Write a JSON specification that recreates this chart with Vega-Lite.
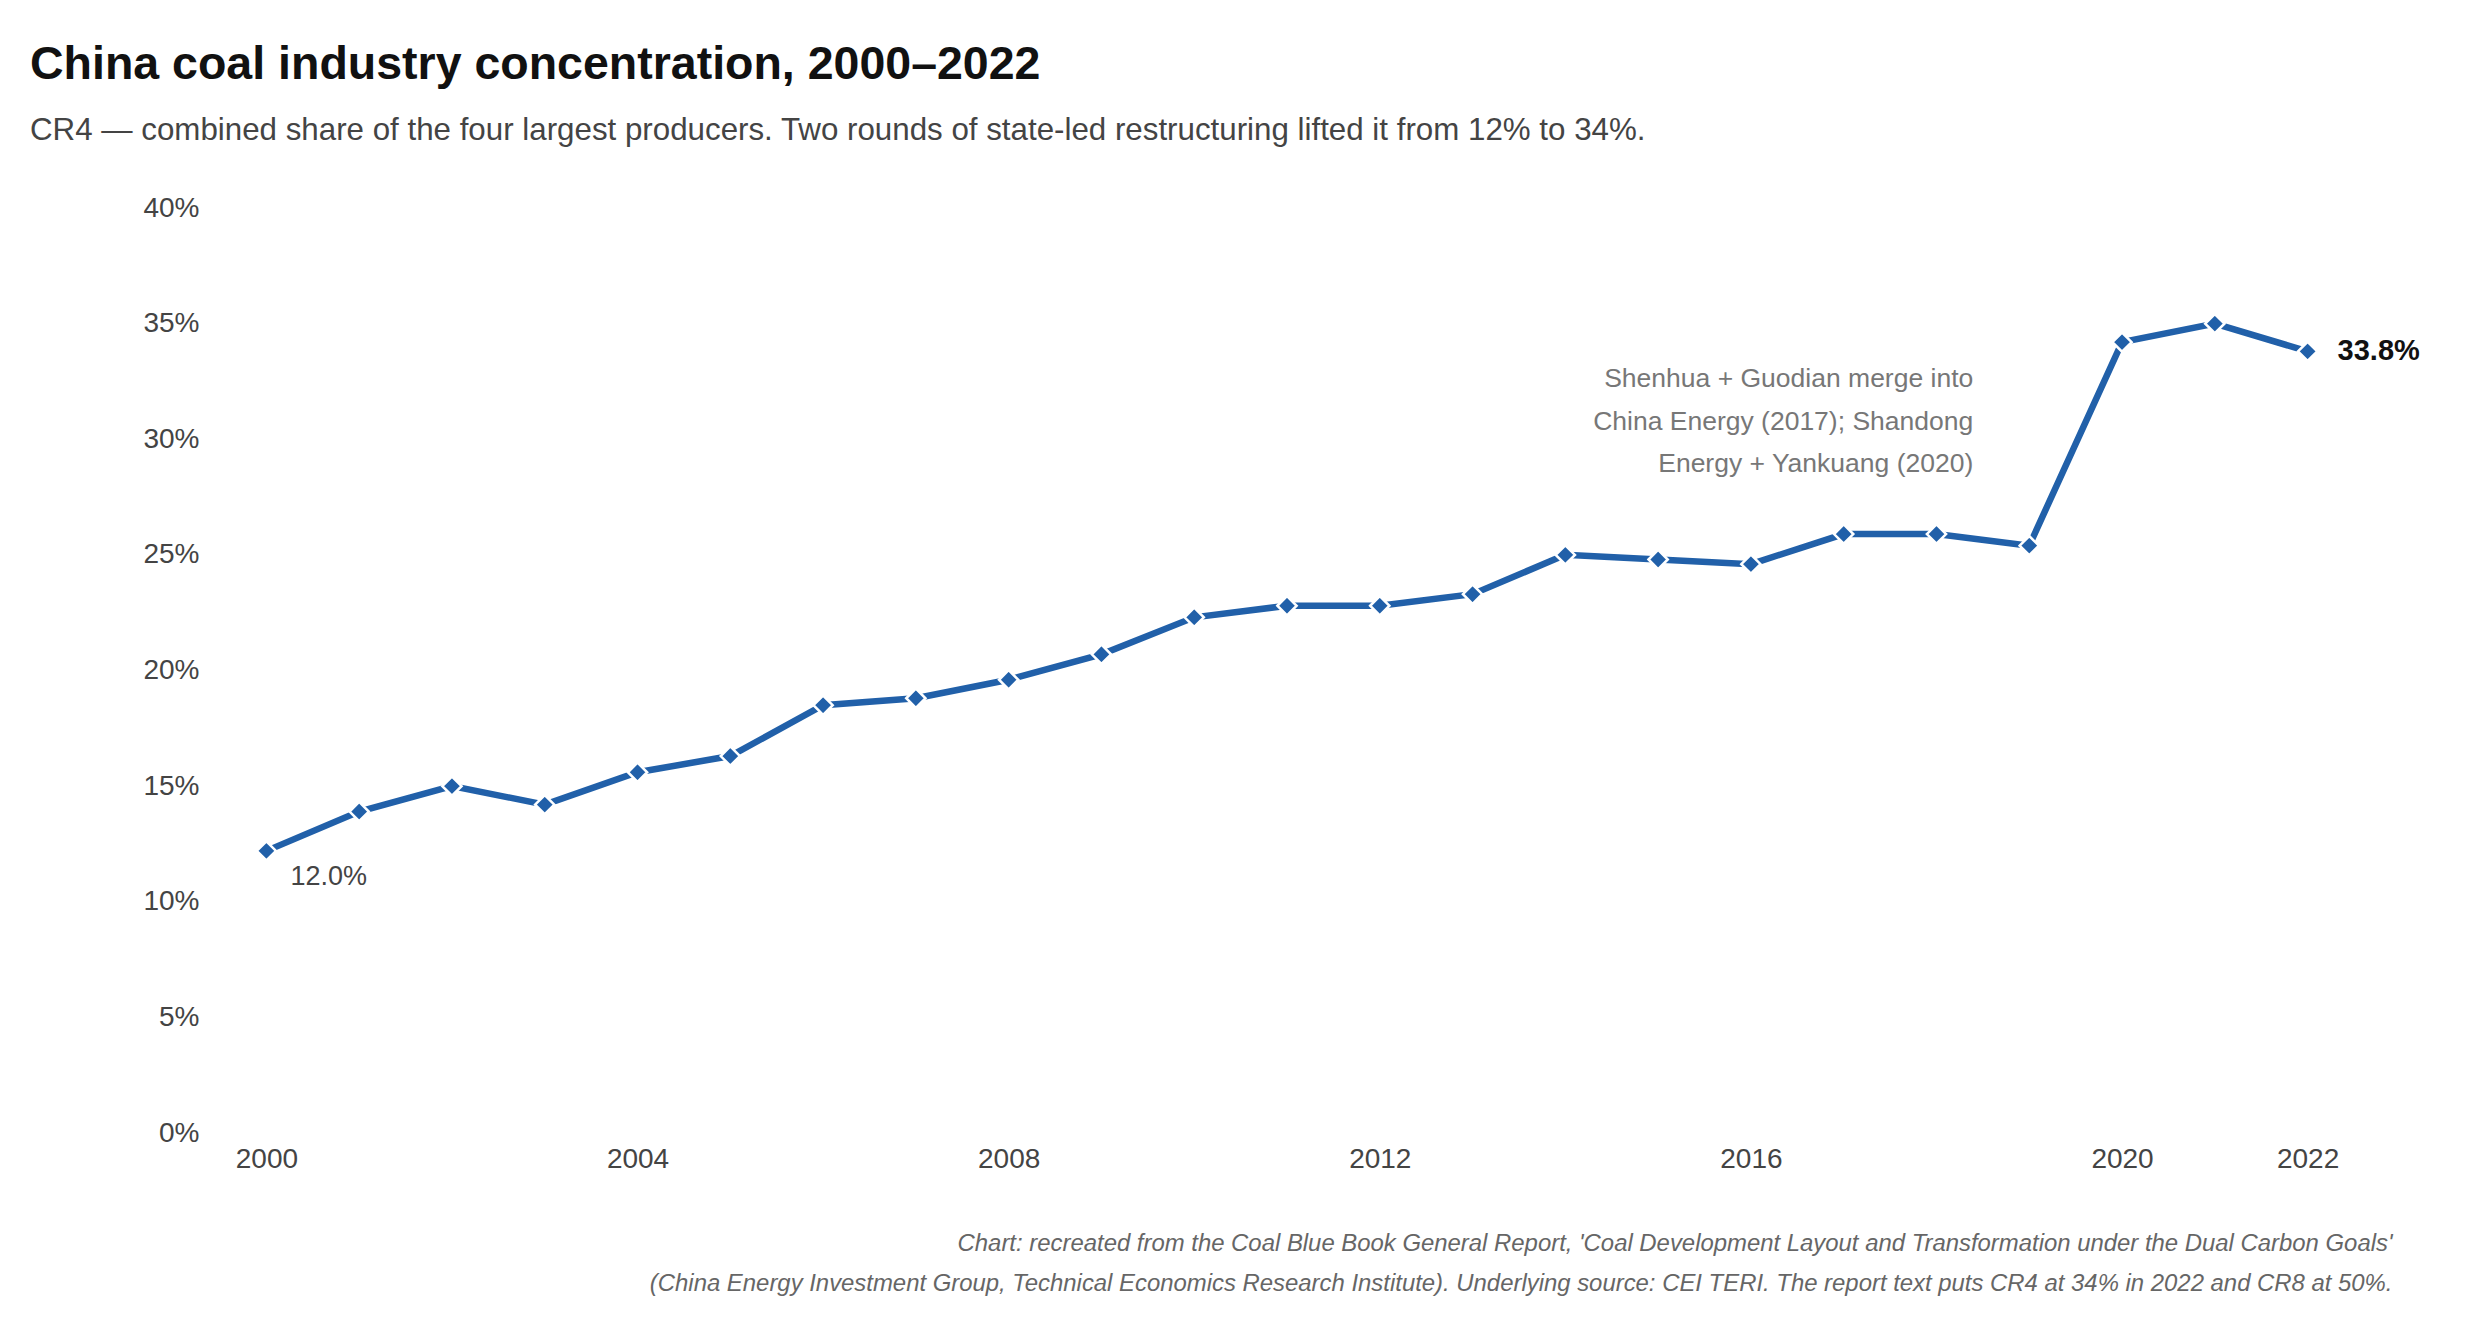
{
  "$schema": "https://vega.github.io/schema/vega-lite/v6.json",
  "description": "China coal industry concentration (CR4), 2000-2022.",
  "width": 2134,
  "height": 925,
  "autosize": {"type": "none"},
  "padding": {"left": 220, "top": 208, "right": 126, "bottom": 187},
  "background": "white",
  "config": {
    "view": {"stroke": null},
    "font": "Liberation Sans"
  },
  "title": {
    "text": "China coal industry concentration, 2000–2022",
    "subtitle": "CR4 — combined share of the four largest producers. Two rounds of state-led restructuring lifted it from 12% to 34%.",
    "anchor": "start",
    "frame": "group",
    "dx": -190,
    "offset": 48,
    "font": "Liberation Sans",
    "fontSize": 46.5,
    "fontWeight": "bold",
    "color": "#111111",
    "subtitleFont": "Liberation Sans",
    "subtitleFontSize": 31.3,
    "subtitleColor": "#444444",
    "subtitlePadding": 26
  },
  "data": {
    "values": [
      {"year": 2000, "cr4": 12.2, "label": "12.0%"},
      {"year": 2001, "cr4": 13.9},
      {"year": 2002, "cr4": 15.0},
      {"year": 2003, "cr4": 14.2},
      {"year": 2004, "cr4": 15.6},
      {"year": 2005, "cr4": 16.3},
      {"year": 2006, "cr4": 18.5},
      {"year": 2007, "cr4": 18.8},
      {"year": 2008, "cr4": 19.6},
      {"year": 2009, "cr4": 20.7},
      {"year": 2010, "cr4": 22.3},
      {"year": 2011, "cr4": 22.8},
      {"year": 2012, "cr4": 22.8},
      {"year": 2013, "cr4": 23.3},
      {"year": 2014, "cr4": 25.0},
      {"year": 2015, "cr4": 24.8},
      {"year": 2016, "cr4": 24.6},
      {"year": 2017, "cr4": 25.9},
      {"year": 2018, "cr4": 25.9},
      {"year": 2019, "cr4": 25.4},
      {"year": 2020, "cr4": 34.2},
      {"year": 2021, "cr4": 35.0},
      {"year": 2022, "cr4": 33.8, "label": "33.8%"}
    ]
  },
  "encoding": {
    "x": {
      "field": "year",
      "type": "quantitative",
      "scale": {"domain": [1999.5, 2022.5], "nice": false, "zero": false},
      "axis": {
        "values": [2000, 2004, 2008, 2012, 2016, 2020, 2022],
        "format": "d",
        "domain": false,
        "ticks": false,
        "grid": false,
        "labelFont": "Liberation Sans",
        "labelFontSize": 28,
        "labelColor": "#444444",
        "labelPadding": 12,
        "title": [
          "Chart: recreated from the Coal Blue Book General Report, 'Coal Development Layout and Transformation under the Dual Carbon Goals'",
          "(China Energy Investment Group, Technical Economics Research Institute). Underlying source: CEI TERI. The report text puts CR4 at 34% in 2022 and CR8 at 50%."
        ],
        "titleFont": "Liberation Sans",
        "titleFontSize": 23.9,
        "titleFontStyle": "italic",
        "titleFontWeight": "normal",
        "titleColor": "#666666",
        "titleAlign": "right",
        "titleBaseline": "middle",
        "titleLineHeight": 40,
        "titleX": 2172,
        "titleY": 110
      }
    },
    "y": {
      "field": "cr4",
      "type": "quantitative",
      "scale": {"domain": [0, 40], "nice": false},
      "axis": {
        "values": [0, 5, 10, 15, 20, 25, 30, 35, 40],
        "labelExpr": "datum.value + '%'",
        "domain": false,
        "ticks": false,
        "grid": false,
        "labelFont": "Liberation Sans",
        "labelFontSize": 28,
        "labelColor": "#444444",
        "labelPadding": 21,
        "title": null
      }
    }
  },
  "layer": [
    {
      "mark": {"type": "line", "color": "#2160a9", "strokeWidth": 6.5}
    },
    {
      "mark": {
        "type": "point",
        "shape": "diamond",
        "filled": true,
        "size": 370,
        "fill": "#2160a9",
        "stroke": "white",
        "strokeWidth": 2.5,
        "opacity": 1
      }
    },
    {
      "transform": [{"filter": "datum.year == 2000"}],
      "mark": {
        "type": "text",
        "align": "left",
        "baseline": "middle",
        "dx": 24,
        "dy": 26,
        "fontSize": 27,
        "color": "#444444"
      },
      "encoding": {"text": {"field": "label", "type": "nominal"}}
    },
    {
      "transform": [{"filter": "datum.year == 2022"}],
      "mark": {
        "type": "text",
        "align": "left",
        "baseline": "middle",
        "dx": 30,
        "fontSize": 29,
        "fontWeight": "bold",
        "color": "#111111"
      },
      "encoding": {"text": {"field": "label", "type": "nominal"}}
    },
    {
      "data": {
        "values": [
          {"year": 2019, "cr4": 32.6, "note": "Shenhua + Guodian merge into\nChina Energy (2017); Shandong\nEnergy + Yankuang (2020)"}
        ]
      },
      "mark": {
        "type": "text",
        "align": "right",
        "baseline": "middle",
        "dx": -56,
        "lineBreak": "\n",
        "lineHeight": 42.5,
        "fontSize": 26.5,
        "color": "#777777"
      },
      "encoding": {"text": {"field": "note", "type": "nominal"}}
    }
  ]
}
